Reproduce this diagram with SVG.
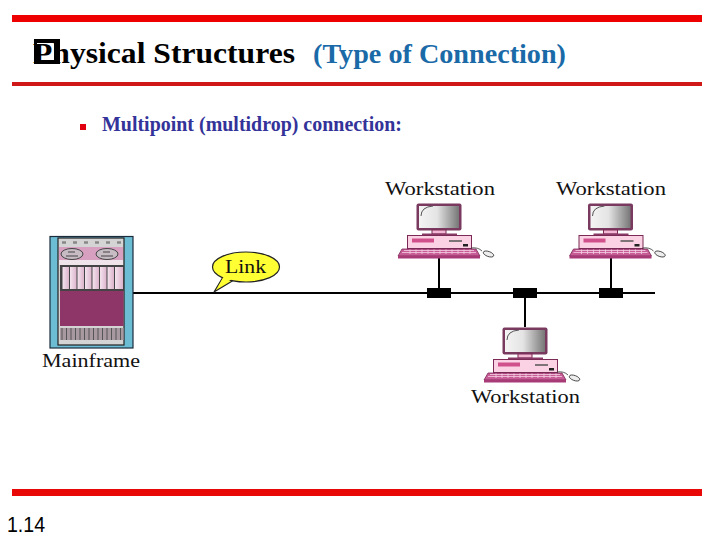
<svg xmlns="http://www.w3.org/2000/svg" width="720" height="540" viewBox="0 0 720 540">
<style>
.serif{font-family:"Liberation Serif","Times New Roman",serif}
.lbl{font-family:"Liberation Serif","Times New Roman",serif;font-size:18px;fill:#111}
.wire{stroke:#000;stroke-width:2;fill:none}
.tap{fill:#000}
.pk{stroke:#7a2a55;stroke-width:1}
</style>
<defs>
<linearGradient id="scr" x1="0" x2="1" y1="0" y2="0"><stop offset="0" stop-color="#f4f4f4"/><stop offset="0.45" stop-color="#e4e4e4"/><stop offset="1" stop-color="#777"/></linearGradient>
<linearGradient id="reel" x1="0" x2="1" y1="0" y2="0"><stop offset="0" stop-color="#f4e4ee"/><stop offset="1" stop-color="#dcb4cc"/></linearGradient>
<g id="pc">
<rect x="416.500" y="203.500" width="45" height="27" rx="2" fill="#7a3a60"/>
<rect x="419" y="206" width="40" height="22" fill="url(#scr)"/>
<path d="M421 216Q421 207 433 206" fill="none" stroke="#555" stroke-width="1"/>
<rect x="432" y="230" width="14" height="4" fill="#f4b8d4" class="pk"/>
<rect x="422" y="233.500" width="35" height="2" fill="#8a3a66"/>
<rect x="407.500" y="235.500" width="64" height="13" fill="#fad2e4" class="pk"/>
<rect x="412" y="238.500" width="22" height="4" fill="#d0508c"/>
<path d="M449 241H462" stroke="#555" stroke-width="1.500"/>
<rect x="463" y="244" width="5" height="2.500" fill="#222"/>
<path d="M402 249H476L480 256H398Z" fill="#c85c96" stroke="#7a2a55" stroke-width="0.800"/>
<path d="M404 250.500H474M402 252.500H476M410 249.500V254M416 249.500V254M422 249.500V254M428 249.500V254M434 249.500V254M440 249.500V254M446 249.500V254M452 249.500V254M458 249.500V254M464 249.500V254M470 249.500V254" stroke="#f4d0e2" stroke-width="0.800" fill="none"/>
<rect x="398" y="256" width="82" height="2.500" fill="#a83a78"/>
<path d="M471 248Q478 247 482 251" fill="none" stroke="#333" stroke-width="0.800"/>
<ellipse cx="488.500" cy="254" rx="5.500" ry="2.500" transform="rotate(20 488.500 254)" fill="#eee" stroke="#333" stroke-width="0.800"/>
</g>
</defs>

<rect x="12" y="15" width="690" height="7" fill="#ee0000"/>
<rect x="12" y="82" width="690" height="4" fill="#d01818"/>
<rect x="12" y="489" width="690" height="7" fill="#e80808"/>

<rect x="34" y="39" width="26" height="25" fill="#000"/>
<rect x="37" y="43" width="17" height="17" fill="#fff"/>
<text class="serif" x="33" y="63" font-size="30" font-weight="bold" fill="#000" textLength="262" lengthAdjust="spacingAndGlyphs">Physical Structures</text>
<text class="serif" x="313" y="63" font-size="28" font-weight="bold" fill="#1a6aa8" textLength="253" lengthAdjust="spacingAndGlyphs">(Type of Connection)</text>
<rect x="80" y="124" width="6" height="6" fill="#e00010"/>
<text class="serif" x="102" y="131" font-size="20" font-weight="bold" fill="#333399" textLength="300" lengthAdjust="spacingAndGlyphs">Multipoint (multidrop) connection:</text>
<text x="7" y="532" font-family="'Liberation Sans',Arial,sans-serif" font-size="22" fill="#000" textLength="38" lengthAdjust="spacingAndGlyphs">1.14</text>

<g id="connectors">
<path class="wire" d="M133 293H655"/>
<path class="wire" d="M439 258V288M611 258V288M525 298V327"/>
<rect class="tap" x="427" y="288" width="24" height="10"/>
<rect class="tap" x="513" y="288" width="24" height="10"/>
<rect class="tap" x="599" y="288" width="24" height="10"/>
</g>

<g id="mainframe">
<rect x="50" y="236.500" width="83" height="111.500" fill="#6cbcd4" stroke="#1c2c3c" stroke-width="1.200"/>
<rect x="58" y="238" width="66" height="107" fill="#d4d4d4" stroke="#222" stroke-width="1.200"/>
<path d="M62 242.500H124" stroke="#888" stroke-width="2.500" stroke-dasharray="4 7"/>
<rect x="59" y="247" width="64" height="13" fill="#d8a0c0"/>
<ellipse cx="72" cy="254" rx="11" ry="5.500" fill="#c8bcc4" stroke="#444"/>
<ellipse cx="107" cy="254" rx="11" ry="5.500" fill="#c8bcc4" stroke="#444"/>
<path d="M68 252h7M103 252h7M66 256h12M101 256h12" stroke="#444" stroke-width="1"/>
<rect x="59" y="260" width="64" height="5" fill="#eee4ea"/>
<rect x="60" y="265" width="64" height="26" fill="#444"/>
<g fill="url(#reel)"><rect x="62.500" y="267" width="6.500" height="22"/><rect x="70" y="267" width="6.500" height="22"/><rect x="77.500" y="267" width="6.500" height="22"/><rect x="85" y="267" width="6.500" height="22"/><rect x="92.500" y="267" width="6.500" height="22"/><rect x="100" y="267" width="6.500" height="22"/><rect x="107.500" y="267" width="6.500" height="22"/><rect x="115" y="267" width="8" height="22"/></g>
<rect x="60" y="291" width="63.500" height="35" fill="#8e3668"/>
<rect x="60" y="328" width="63.500" height="12" fill="#a8989f"/>
<path d="M62 328V340M66.500 328V340M71 328V340M75.500 328V340M80 328V340M84.500 328V340M89 328V340M93.500 328V340M98 328V340M102.500 328V340M107 328V340M111.500 328V340M116 328V340M120.500 328V340" stroke="#555" stroke-width="1"/>
<text class="lbl" x="42" y="367" textLength="98" lengthAdjust="spacingAndGlyphs">Mainframe</text>
</g>

<g id="link">
<path d="M223 277L214 292L234 280Z" fill="#ffff33" stroke="#222" stroke-width="1.200"/>
<ellipse cx="246" cy="267" rx="33.500" ry="15" fill="#ffff33" stroke="#222" stroke-width="1.200"/>
<path d="M224.500 275L218 287L233 278.500Z" fill="#ffff33"/>
<text class="lbl" x="225" y="273" textLength="41" lengthAdjust="spacingAndGlyphs">Link</text>
</g>

<g id="ws1">
<use href="#pc"/>
<text class="lbl" x="385" y="195" textLength="110" lengthAdjust="spacingAndGlyphs">Workstation</text>
</g>
<g id="ws2">
<use href="#pc" x="171.500"/>
<text class="lbl" x="556" y="195" textLength="110" lengthAdjust="spacingAndGlyphs">Workstation</text>
</g>
<g id="ws3">
<use href="#pc" x="86" y="124"/>
<text class="lbl" x="471" y="403" textLength="109" lengthAdjust="spacingAndGlyphs">Workstation</text>
</g>
</svg>
